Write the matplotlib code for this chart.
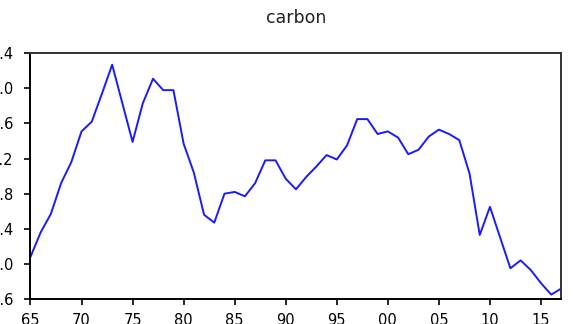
import matplotlib
matplotlib.use("Agg")
import matplotlib.pyplot as plt

years = list(range(1965, 2018))
carbon = [1.08, 1.36, 1.57, 1.92, 2.16, 2.51, 2.62, 2.94, 3.27, 2.83,
          2.39, 2.83, 3.11, 2.98, 2.98, 2.37, 2.04, 1.56, 1.47, 1.80,
          1.82, 1.77, 1.92, 2.18, 2.18, 1.97, 1.85, 1.99, 2.11, 2.24,
          2.19, 2.35, 2.65, 2.65, 2.48, 2.51, 2.44, 2.25, 2.30, 2.45,
          2.53, 2.48, 2.41, 2.03, 1.33, 1.65, 1.30, 0.95, 1.04, 0.93,
          0.78, 0.65, 0.72]

x_ticks = list(range(1965, 2016, 5))
x_labels = ["65", "70", "75", "80", "85", "90", "95", "00", "05", "10", "15"]
y_ticks = [0.6, 1.0, 1.4, 1.8, 2.2, 2.6, 3.0, 3.4]

plt.rcParams["font.family"] = "DejaVu Sans"

fig = plt.figure(figsize=(5.74, 3.24), dpi=100)
ax = fig.add_axes([0.0531, 0.0772, 0.925, 0.7583])

ax.plot(years, carbon, color="#1a1aff", linewidth=1.4)

ax.set_xlim(1965, 2017)
ax.set_ylim(0.6, 3.4)
ax.set_xticks(x_ticks)
ax.set_xticklabels(x_labels)
ax.set_yticks(y_ticks)
ax.set_yticklabels([f"{v:.1f}" for v in y_ticks])

ax.tick_params(direction="out", length=4, width=1.2, labelsize=10.5,
               colors="black")
ax.tick_params(axis="x", pad=6)
ax.tick_params(axis="y", pad=8)
for side in ["left", "bottom"]:
    ax.spines[side].set_linewidth(1.4)
    ax.spines[side].set_color("black")
for side in ["top", "right"]:
    ax.spines[side].set_linewidth(1.4)
    ax.spines[side].set_color("#333333")

ax.set_title("carbon", fontsize=12.5, color="#222222", pad=22)

fig.savefig("out.png", dpi=100)
